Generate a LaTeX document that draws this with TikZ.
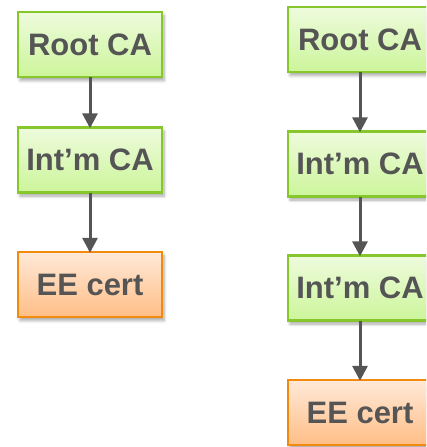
\documentclass[tikz,border=0pt]{standalone}
\usepackage{fontspec}
\setmainfont{Liberation Sans}
\usetikzlibrary{arrows.meta,shadows.blur}
\definecolor{txtgrey}{HTML}{555555}
\definecolor{gtop}{HTML}{EEFBDD}
\definecolor{gbot}{HTML}{CCF59A}
\definecolor{gborder}{HTML}{86C82C}
\definecolor{otop}{HTML}{FFE9D8}
\definecolor{obot}{HTML}{FFBE86}
\definecolor{oborder}{HTML}{F28A0E}
\definecolor{arrowgrey}{HTML}{555555}
\tikzset{
  box/.style={minimum width=144pt, minimum height=65pt, inner sep=0pt,
    font=\fontsize{31}{31}\selectfont\bfseries, text=txtgrey,
    blur shadow={shadow xshift=2pt, shadow yshift=-3.5pt, shadow opacity=35, shadow blur radius=3pt, shadow blur steps=6}},
  cabox/.style={box, top color=gtop, bottom color=gbot, postaction={draw=gborder, line width=2.2pt}},
  eebox/.style={box, top color=otop, bottom color=obot, postaction={draw=oborder, line width=2.2pt}},
  link/.style={draw=arrowgrey, line width=3pt, shorten >=-1pt, -{Triangle[width=15pt,length=15pt]}}
}
\begin{document}
\begin{tikzpicture}[x=1pt,y=1pt]
\useasboundingbox (0,0) rectangle (426,-447);
\clip (0,0) rectangle (426,-447);
% left chain
\node[cabox] (lroot) at (90,-44.5) {Root CA};
\node[cabox] (lint) at (90,-160) {Int’m CA};
\node[eebox] (lee) at (90,-284.5) {EE cert};
\draw[link] (lroot) -- (lint);
\draw[link] (lint) -- (lee);
% right chain
\node[cabox] (rroot) at (360,-39.5) {Root CA};
\node[cabox] (rint1) at (360,-164) {Int’m CA};
\node[cabox] (rint2) at (360,-288) {Int’m CA};
\node[eebox] (ree) at (360,-412.5) {EE cert};
\draw[link] (rroot) -- (rint1);
\draw[link] (rint1) -- (rint2);
\draw[link] (rint2) -- (ree);
\end{tikzpicture}
\end{document}
